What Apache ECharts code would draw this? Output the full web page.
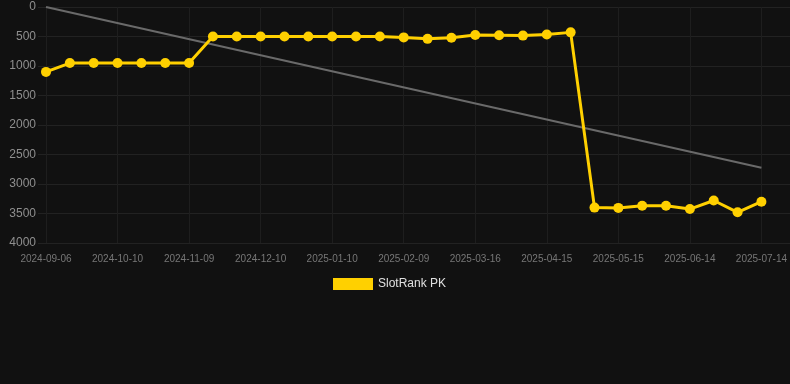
<!DOCTYPE html>
<html>
<head>
<meta charset="utf-8">
<title>SlotRank PK</title>
<script src="https://cdn.jsdelivr.net/npm/echarts@6/dist/echarts.min.js"></script>
<style>
    html, body { margin: 0; padding: 0; background: #111111; }
    #rank { width: 790px; height: 384px; }
</style>
</head>
<body>
<div id="rank"></div>
<script>
// 日期（类目轴）
var dates = [
    '2024-09-06', '2024-09-17', '2024-09-28', '2024-10-10', '2024-10-20', '2024-10-30',
    '2024-11-09', '2024-11-19', '2024-11-29', '2024-12-10', '2024-12-20', '2024-12-31',
    '2025-01-10', '2025-01-20', '2025-01-30', '2025-02-09', '2025-02-21', '2025-03-04',
    '2025-03-16', '2025-03-26', '2025-04-05', '2025-04-15', '2025-04-25', '2025-05-05',
    '2025-05-15', '2025-05-25', '2025-06-04', '2025-06-14', '2025-06-24', '2025-07-04',
    '2025-07-14'
];

// 排名
var ranks = [
    1100, 950, 950, 950, 950, 950,
    950, 500, 500, 500, 500, 500,
    500, 500, 500, 515, 540, 520,
    475, 480, 485, 465, 430, 3400,
    3405, 3370, 3370, 3425, 3280, 3480,
    3300
];

// 趋势线：首尾两点
var trendStart = 0;
var trendEnd = 2725;

var yTicks = [0, 4000, 500];

var trend = dates.map(function (d, i) {
    if (i === 0) return trendStart;
    if (i === dates.length - 1) return trendEnd;
    return null;
});

var rankcharts = echarts.init(document.getElementById('rank'));

var option = {
    backgroundColor: '#111111',
    animation: false,
    legend: {
        left: 333,
        top: 278,
        padding: 0,
        itemWidth: 40,
        itemHeight: 12,
        itemGap: 10,
        icon: 'rect',
        data: ['SlotRank PK'],
        textStyle: {
            color: '#e0e0e0',
            fontSize: 12,
            fontFamily: 'Liberation Sans, Arial, sans-serif'
        }
    },
    grid: [
        // 背景网格（横线更宽）
        { left: 38, right: 0, top: 7, bottom: 141 },
        // 数据区域
        { left: 46, right: 28, top: 7, bottom: 141 }
    ],
    xAxis: [
        {
            gridIndex: 0,
            type: 'category',
            data: dates,
            show: false
        },
        {
            gridIndex: 1,
            type: 'category',
            data: dates,
            boundaryGap: false,
            axisLine: { show: false },
            axisTick: { show: false },
            axisLabel: {
                interval: 2,
                margin: 11,
                color: '#777777',
                fontSize: 10,
                fontFamily: 'Liberation Sans, Arial, sans-serif'
            },
            splitLine: {
                show: true,
                interval: 2,
                lineStyle: { color: '#1e1e1e', width: 1 }
            }
        }
    ],
    yAxis: [
        {
            gridIndex: 0,
            type: 'value',
            inverse: true,
            min: yTicks[0],
            max: yTicks[1],
            interval: yTicks[2],
            axisLine: { show: false },
            axisTick: { show: false },
            axisLabel: {
                margin: 2,
                color: '#8f8f8f',
                fontSize: 12,
                fontFamily: 'Liberation Sans, Arial, sans-serif',
                formatter: function (v) {
                    return String(v);
                }
            },
            splitLine: {
                show: true,
                lineStyle: { color: '#222222', width: 1 }
            }
        },
        {
            gridIndex: 1,
            type: 'value',
            inverse: true,
            min: yTicks[0],
            max: yTicks[1],
            interval: yTicks[2],
            show: false,
            splitLine: { show: false }
        }
    ],
    series: [
        {
            name: 'trend',
            type: 'line',
            xAxisIndex: 1,
            yAxisIndex: 1,
            data: trend,
            connectNulls: true,
            showSymbol: false,
            symbol: 'none',
            lineStyle: { color: '#6a6a6a', width: 2 },
            itemStyle: { color: '#6a6a6a' },
            z: 2
        },
        {
            name: 'SlotRank PK',
            type: 'line',
            xAxisIndex: 1,
            yAxisIndex: 1,
            data: ranks,
            symbol: 'circle',
            symbolSize: 10,
            lineStyle: { color: '#ffd000', width: 3 },
            itemStyle: { color: '#ffd000' },
            z: 3
        }
    ]
};

rankcharts.setOption(option);
window.addEventListener("resize", function () {
    rankcharts.resize();
});
</script>
</body>
</html>
